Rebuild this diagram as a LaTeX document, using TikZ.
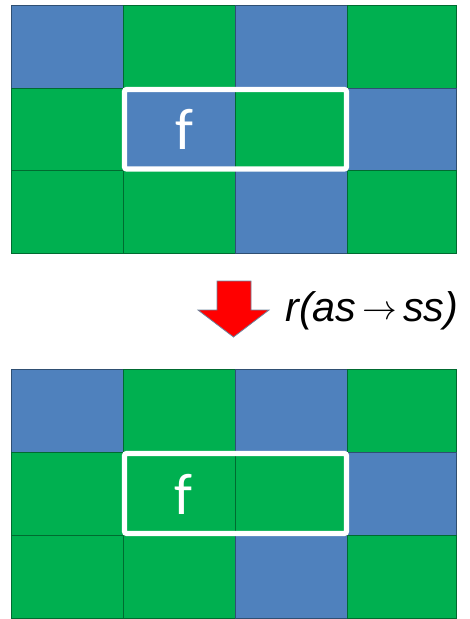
\documentclass[tikz,border=0pt]{standalone}
\usepackage{fontspec}
\setmainfont{Liberation Sans}
\newfontfamily\cellfont{Carlito}
\usepackage{xcolor}
\usepackage{graphicx}
\usepackage{tikz}
\usetikzlibrary{positioning, arrows.meta, calc}

\definecolor{cellblue}{HTML}{4F81BD}
\definecolor{cellgreen}{HTML}{00B050}
\definecolor{edgeblue}{HTML}{2F4F73}
\definecolor{edgegreen}{HTML}{006B30}

\begin{document}
\begin{tikzpicture}[
			x=0.75pt, y=-0.75pt,
			B/.style={fill=cellblue, draw=edgeblue, line width=0.6pt},
			G/.style={fill=cellgreen, draw=edgegreen, line width=0.6pt},
			frame/.style={draw=white, line width=3.8pt, rounded corners=1.5pt},
			label/.style={text=white, font=\cellfont\fontsize{44}{50}\selectfont},
			move/.style={fill=red, draw=edgeblue!70, line width=0.6pt, line join=miter}
		]
		\useasboundingbox (0,0) rectangle (469,619);

		% Top grid
		\foreach \xa/\xb/\c in {11/123/B, 123/235/G, 235/347/B, 347/456/G}
			\draw[\c] (\xa,5) rectangle (\xb,88);
		\foreach \xa/\xb/\c in {11/123/G, 123/235/B, 235/347/G, 347/456/B}
			\draw[\c] (\xa,88) rectangle (\xb,170.5);
		\foreach \xa/\xb/\c in {11/123/G, 123/235/G, 235/347/B, 347/456/G}
			\draw[\c] (\xa,170.5) rectangle (\xb,253);

		\draw[frame] (124.5,89.5) rectangle (346.5,169);
		\node[label] (ftop) at (184,129) {f};

		% Rule
		\draw[move] (217,281) -- (251,281) -- (251,310) -- (269,310)
			-- (233.5,337) -- (198,310) -- (217,310) -- cycle;
		\node[anchor=base west, inner sep=0pt, font=\fontsize{31}{36}\selectfont] (rule) at (285,321)
			{\itshape r(as\hspace{4.5pt}\raisebox{1pt}{\resizebox{26pt}{!}{$\rightarrow$}}\hspace{4.5pt}ss)};

		% Bottom grid
		\foreach \xa/\xb/\c in {11/123/B, 123/235/G, 235/347/B, 347/456/G}
			\draw[\c] (\xa,369) rectangle (\xb,452);
		\foreach \xa/\xb/\c in {11/123/G, 123/235/G, 235/347/G, 347/456/B}
			\draw[\c] (\xa,452) rectangle (\xb,535);
		\foreach \xa/\xb/\c in {11/123/G, 123/235/G, 235/347/B, 347/456/G}
			\draw[\c] (\xa,535) rectangle (\xb,618);

		\draw[frame] (124.5,453.5) rectangle (346.5,533.5);
		\node[label] (fbottom) at (183,494) {f};

		\end{tikzpicture}
\end{document}
